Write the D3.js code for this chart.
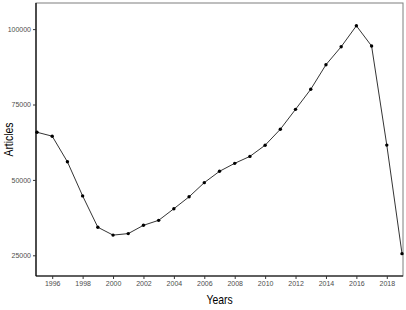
<!DOCTYPE html>
<html>
<head>
<meta charset="utf-8">
<script src="https://cdn.jsdelivr.net/npm/d3@7"></script>
<style>
  html, body { margin: 0; padding: 0; background: #fff; }
  svg { display: block; }
</style>
</head>
<body>
<div id="chart"></div>
<script>
// Data
const years = d3.range(1995, 2020);
const articles = [
  65800, 64500, 56000, 44700, 34300, 31700, 32200, 34950, 36600, 40450,
  44400, 49100, 52850, 55500, 57800, 61500, 66800, 73400, 80050, 88200,
  94150, 101100, 94400, 61550, 25550
];
const yTicks = [25000, 50000, 75000, 100000];
const xTicks = d3.range(1996, 2019, 2);

const width = 406, height = 310;
const marginTop = 3, marginRight = 3, marginBottom = 34, marginLeft = 36;
const innerWidth = width - marginLeft - marginRight;
const innerHeight = height - marginTop - marginBottom;

const font = "'Liberation Sans', Arial, sans-serif";
const squeeze = 0.8; // titles look horizontally condensed in the reference

const x = d3.scaleLinear().domain([1995, 2019]).range([1, innerWidth - 1]);
const y = d3.scaleLinear().domain([18140, 108660]).range([innerHeight, 0]);

const svg = d3.select("#chart").append("svg")
  .attr("width", width)
  .attr("height", height)
  .attr("viewBox", `0 0 ${width} ${height}`);

const g = svg.append("g")
  .attr("transform", `translate(${marginLeft},${marginTop})`);

// panel border (grey), axis lines drawn black on top
g.append("rect")
  .attr("x", 0).attr("y", 0)
  .attr("width", innerWidth).attr("height", innerHeight)
  .attr("fill", "none")
  .attr("stroke", "#7f7f7f")
  .attr("stroke-width", 1);

// X axis
g.append("g")
  .attr("transform", `translate(0,${innerHeight})`)
  .call(d3.axisBottom(x).tickValues(xTicks).tickFormat(d3.format("d")).tickSize(3).tickPadding(2))
  .attr("font-family", font)
  .attr("font-size", 7)
  .call(g => g.select(".domain").attr("stroke", "#000").attr("stroke-width", 1.2).attr("d", `M0,0H${innerWidth}`))
  .call(g => g.selectAll(".tick line").attr("stroke", "#333"))
  .call(g => g.selectAll(".tick text").attr("fill", "#4d4d4d"));

// Y axis
g.append("g")
  .call(d3.axisLeft(y).tickValues(yTicks).tickFormat(d3.format("d")).tickSize(3).tickPadding(2))
  .attr("font-family", font)
  .attr("font-size", 7)
  .call(g => g.select(".domain").attr("stroke", "#000").attr("stroke-width", 1.2).attr("d", `M0,0V${innerHeight}`))
  .call(g => g.selectAll(".tick line").attr("stroke", "#333"))
  .call(g => g.selectAll(".tick text").attr("fill", "#4d4d4d"));

// Line
const line = d3.line()
  .x((d, i) => x(years[i]))
  .y(d => y(d));

g.append("path")
  .datum(articles)
  .attr("fill", "none")
  .attr("stroke", "#000")
  .attr("stroke-width", 0.8)
  .attr("d", line);

// Points
g.append("g")
  .selectAll("circle")
  .data(articles)
  .join("circle")
  .attr("cx", (d, i) => x(years[i]))
  .attr("cy", d => y(d))
  .attr("r", 1.7)
  .attr("fill", "#000");

// Axis titles
svg.append("text")
  .attr("transform", `translate(${marginLeft + innerWidth / 2},304) scale(${squeeze},1)`)
  .attr("text-anchor", "middle")
  .attr("font-family", font)
  .attr("font-size", 13)
  .attr("fill", "#000")
  .text("Years");

svg.append("text")
  .attr("transform", `translate(13,${marginTop + innerHeight / 2}) rotate(-90) scale(${squeeze},1)`)
  .attr("text-anchor", "middle")
  .attr("font-family", font)
  .attr("font-size", 13)
  .attr("fill", "#000")
  .text("Articles");
</script>
</body>
</html>
